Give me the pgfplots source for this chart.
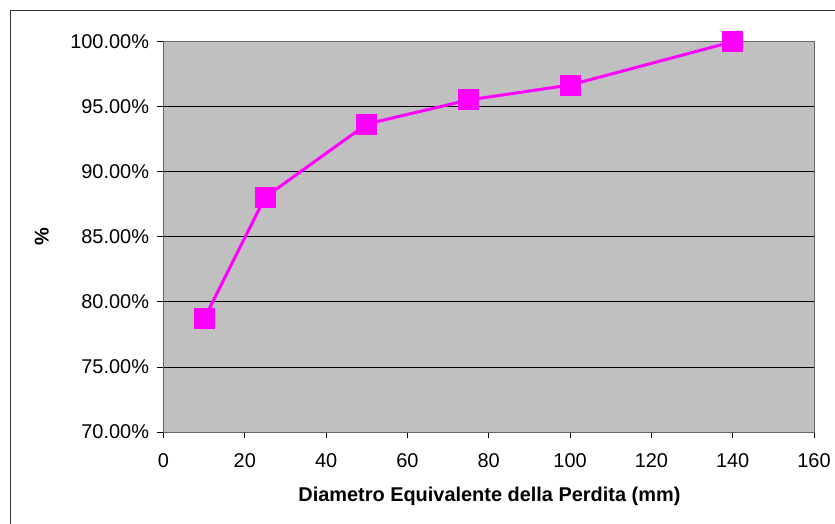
\documentclass[border=0pt]{standalone}
\usepackage{pgfplots}
\pgfplotsset{compat=1.18}
\usepackage{fontspec}
\setmainfont{Liberation Sans}
\definecolor{plotgray}{HTML}{C0C0C0}
\definecolor{mag}{HTML}{FF00FF}
\begin{document}
\begin{tikzpicture}
\useasboundingbox (0bp,0bp) rectangle (835bp,524bp);
\draw[line width=1bp, black!80] (10bp,0bp) -- (10bp,513bp) -- (835bp,513bp);
\begin{axis}[
  at={(163.5bp,92bp)}, anchor=south west,
  scale only axis, width=650.5bp, height=390.3bp,
  xmin=0, xmax=160, ymin=70, ymax=100,
  xtick={0,20,...,160}, ytick={70,75,...,100},
  xtick pos=bottom, ytick pos=left,
  axis background/.style={fill=plotgray},
  ymajorgrids, grid style={black, line width=0.8bp},
  axis line style={black!60, line width=1bp},
  tick style={black, line width=0.8bp},
  tick align=outside, major tick length=6bp,
  /pgf/number format/assume math mode=true,
  ticklabel style={font=\fontsize{20}{24}\selectfont},
  yticklabel={\pgfmathprintnumber[fixed,fixed zerofill,precision=2]{\tick}\%},
  xticklabel style={yshift=-12bp},
  yticklabel style={xshift=-5bp},
  xlabel={\textbf{Diametro Equivalente della Perdita (mm)}},
  ylabel={\textbf{\%}},
  label style={font=\fontsize{20}{24}\selectfont},
  xlabel style={at={(axis description cs:0.501,-0.164)}, anchor=center},
  ylabel style={at={(axis description cs:-0.187,0.5)}, anchor=center},
  clip=false,
]
\addplot[mag, line width=3bp, mark=square*, mark size=10bp, mark options={fill=mag, draw=mag, line width=0pt}]
  coordinates {(10,78.69) (25,88.05) (50,93.67) (75,95.52) (100,96.67) (140,100)};
\end{axis}
\end{tikzpicture}
\end{document}
